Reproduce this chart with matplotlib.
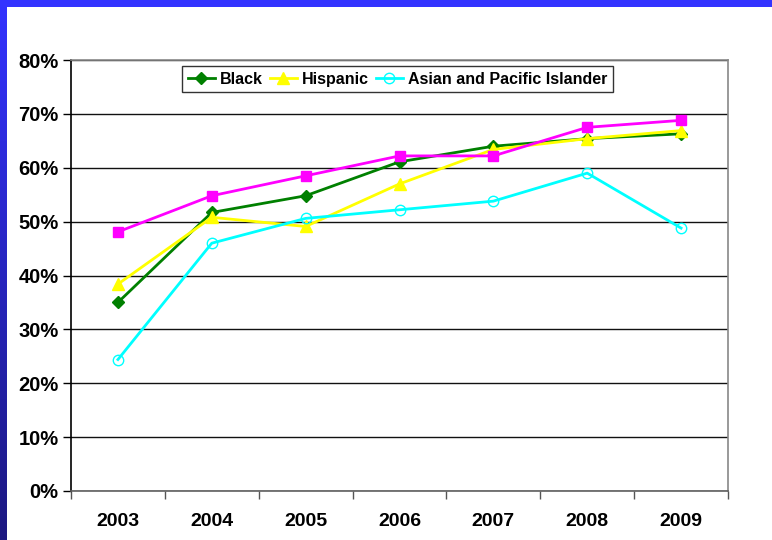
import numpy as np
import matplotlib
matplotlib.use("Agg")
import matplotlib.pyplot as plt
from matplotlib.patches import Rectangle

plt.rcParams['font.family'] = ['Liberation Sans', 'DejaVu Sans']
plt.rcParams['font.weight'] = 'bold'

years = ['2003', '2004', '2005', '2006', '2007', '2008', '2009']
black = [35.0, 51.7, 54.8, 61.1, 64.0, 65.4, 66.3]
hispanic = [38.4, 50.8, 49.1, 57.0, 63.4, 65.4, 66.9]
asian = [24.4, 46.0, 50.6, 52.2, 53.8, 59.0, 48.8]
other = [48.1, 54.8, 58.5, 62.2, 62.2, 67.5, 68.8]
yticks = [0, 10, 20, 30, 40, 50, 60, 70, 80]
ytick_labels = ['0%', '10%', '20%', '30%', '40%', '50%', '60%', '70%', '80%']

W, H = 772, 540
fig = plt.figure(figsize=(W / 100, H / 100), dpi=100)
fig.patch.set_facecolor('white')

# blue frame: left gradient strip and top band
bg = fig.add_axes([0, 0, 1, 1], zorder=-5)
bg.axis('off')
grad = np.linspace(0, 1, 256).reshape(-1, 1)
top_c = np.array([0x33, 0x33, 0xFF]) / 255
bot_c = np.array([0x1c, 0x18, 0x80]) / 255
img = top_c[None, None, :] * (1 - grad[:, :, None]) + bot_c[None, None, :] * grad[:, :, None]
bg.imshow(img, extent=[0, 7, H, 0], aspect='auto', interpolation='bilinear')
bg.add_patch(Rectangle((0, 0), W, 7, color='#3333FF', lw=0))
bg.set_xlim(0, W)
bg.set_ylim(H, 0)

ax = fig.add_axes([71 / W, 1 - 491 / H, (728 - 71) / W, (491 - 60) / H])
x = np.arange(len(years))

lw = 2.0
ax.plot(x, black, color='#008000', lw=lw, marker='D', ms=6, mfc='#008000', mec='#008000',
        label='Black', zorder=3)
ax.plot(x, hispanic, color='#FFFF00', lw=lw, marker='^', ms=8.5, mfc='#FFFF00', mec='#FFFF00',
        label='Hispanic', zorder=4)
ax.plot(x, asian, color='#00FFFF', lw=lw, marker='o', ms=7.5, mfc='none', mec='#00FFFF', mew=1.0,
        label='Asian and Pacific Islander', zorder=5)
ax.plot(x, other, color='#FF00FF', lw=lw, marker='s', ms=7.5, mfc='#FF00FF', mec='#FF00FF',
        zorder=6)

ax.set_xlim(-0.5, len(years) - 0.5)
ax.set_ylim(0, 80)
ax.set_yticks(yticks)
ax.set_yticklabels(ytick_labels, fontsize=14.5, fontweight='bold')
ax.set_xticks(np.arange(-0.5, len(years), 1.0))
ax.set_xticklabels([])
ax.set_xticks(x, minor=True)
ax.set_xticklabels(years, minor=True, fontsize=14, fontweight='bold')
ax.tick_params(axis='x', which='minor', length=0, pad=16)
ax.tick_params(axis='x', which='major', length=6, width=1, color='#555555', direction='out')
ax.tick_params(axis='y', length=6, width=1, color='black', direction='out', pad=3)

ax.grid(axis='y', color='#111111', lw=1.0, zorder=0)
ax.set_axisbelow(True)
ax.spines['left'].set_color('black')
ax.spines['bottom'].set_color('#606060')
ax.spines['right'].set_color('#888888')
ax.spines['top'].set_color('#888888')
for s in ax.spines.values():
    s.set_linewidth(1.2)

leg = ax.legend(loc='upper left', bbox_to_anchor=((182 - 71) / (728 - 71), (491 - 66) / (491 - 60)),
                ncol=3, fontsize=11.5, frameon=True, fancybox=False, edgecolor='black',
                handlelength=1.7, handletextpad=0.3, columnspacing=0.45, borderpad=0.35,
                borderaxespad=0)
leg.get_frame().set_linewidth(1.0)
for t in leg.get_texts():
    t.set_fontweight('bold')

fig.savefig('out.png', dpi=100, facecolor='white')
